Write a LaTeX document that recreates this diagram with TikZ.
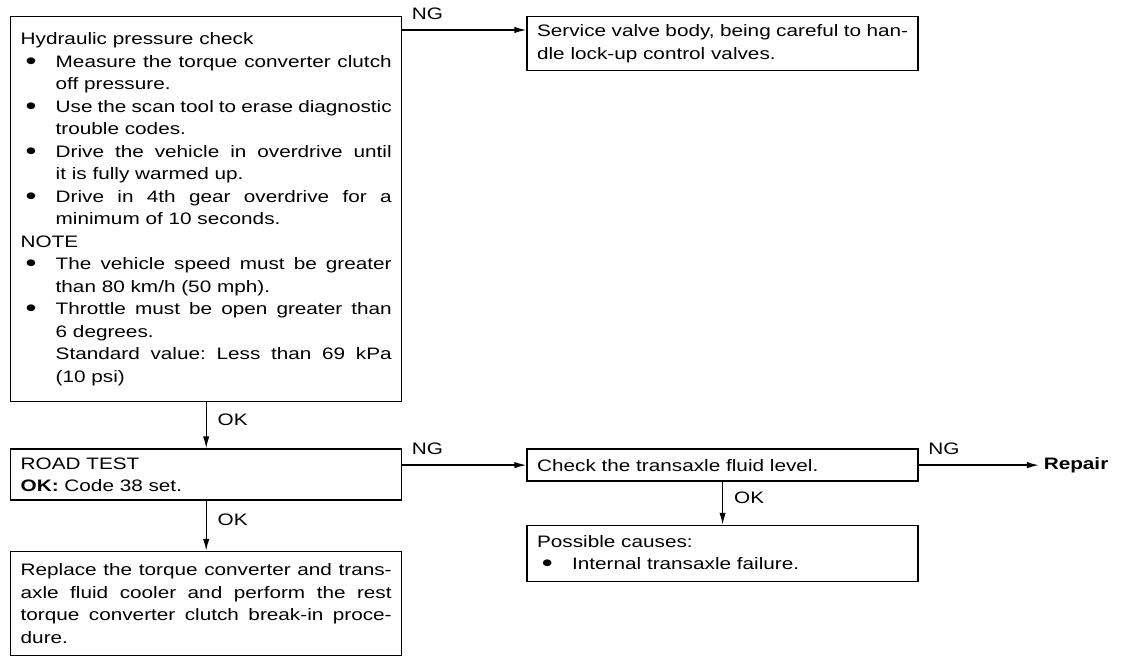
\documentclass[tikz,border=0pt]{standalone}
\usepackage{fontspec}
\setmainfont{Liberation Sans}[FakeStretch=1.25]
\usetikzlibrary{arrows.meta, positioning}
\setlength{\parindent}{0pt}
\frenchspacing
\newcommand{\bitem}{\par\hangindent=0.875cm\hangafter=1\noindent
    \makebox[0.875cm][l]{\hspace{0.12cm}\raisebox{-0.12em}{\scalebox{1.5}{\textbullet}}}}

\begin{document}
\begin{tikzpicture}[
    node distance=1.15cm and 3.1cm,
    every node/.style={
        font=\fontsize{11.8pt}{16pt}\selectfont
    },
    stepbox/.style={
        rectangle,
        draw,
        line width=1pt,
        text width=9.275cm,
        align=justify,
        inner xsep=0.25cm,
        inner ysep=0.2cm
    },
    line/.style={
        -{Latex[length=3mm, width=1.6mm]},
        line width=1pt
    },
    nglabel/.style={
        anchor=south west,
        pos=0,
        inner sep=2pt,
        xshift=0.15cm,
        yshift=0.18cm
    },
    oklabel/.style={
        anchor=west,
        pos=0.37,
        inner sep=2pt,
        xshift=0.2cm
    }
]
\useasboundingbox (0,0) rectangle (28.4,-16.55);

\node[stepbox, anchor=north west, minimum height=9.625cm] (hydraulic) at (0.25,-0.4)
    {\tolerance=9999\hyphenpenalty=10000
    Hydraulic pressure check
    \bitem Measure the torque converter clutch\linebreak off pressure.
    \bitem Use the scan tool to erase diagnostic\linebreak trouble codes.
    \bitem Drive the vehicle in overdrive until\linebreak it is fully warmed up.
    \bitem Drive in 4th gear overdrive for a\linebreak minimum of 10 seconds.
    \par\noindent NOTE
    \bitem The vehicle speed must be greater\linebreak than 80 km/h (50 mph).
    \bitem Throttle must be open greater than\linebreak 6 degrees.\newline
    Standard value: Less than 69 kPa\linebreak (10 psi)\par};

\node[stepbox, right=of hydraulic.north east, anchor=north west, minimum height=1.35cm] (service)
    {\tolerance=9999\hyphenpenalty=10000
    Service valve body, being careful to han-\linebreak dle lock-up control valves.\par};

\node[stepbox, below=of hydraulic, minimum height=1.275cm] (road)
    {ROAD TEST\par\noindent\textbf{OK:} Code 38 set.};

\node[stepbox, below=1.25cm of road, minimum height=2.6cm] (replace)
    {\tolerance=9999\hyphenpenalty=10000
    Replace the torque converter and trans-\linebreak axle fluid cooler and perform the rest\linebreak
    torque converter clutch break-in proce-\linebreak dure.\par};

\node[stepbox, right=of road.north east, anchor=north west, minimum height=0.8cm] (check)
    {Check the transaxle fluid level.};

\node[stepbox, below=1.075cm of check, minimum height=1.4cm] (causes)
    {Possible causes:
    \bitem Internal transaxle failure.\par};

\node[right=3cm of check] (repair) {\bfseries Repair};

\draw[line] (service.176 -| hydraulic.east) -- node[nglabel]{NG} (service.176);

\draw[line] (hydraulic) -- node[oklabel]{OK} (road);
\draw[line] (road) -- node[oklabel]{OK} (replace);

\draw[line] (check.west -| road.east) -- node[nglabel]{NG} (check.west);
\draw[line] (check) -- node[nglabel]{NG} (repair);
\draw[line] (check) -- node[oklabel]{OK} (causes);

\end{tikzpicture}
\end{document}
